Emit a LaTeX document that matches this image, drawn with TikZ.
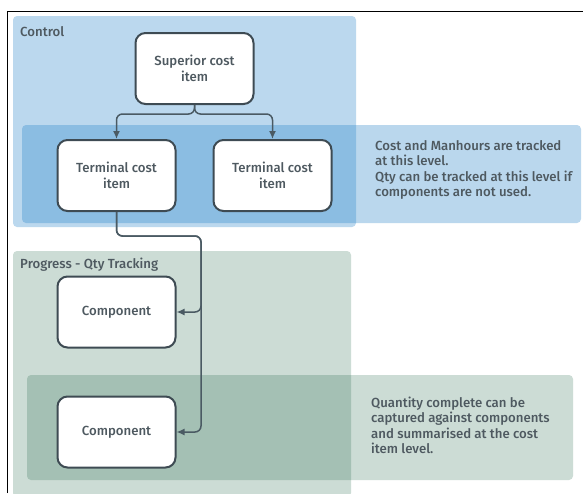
\documentclass[tikz,border=0pt]{standalone}
\usepackage{fontspec}
\setmainfont{Fira Sans}[UprightFont={* Medium}]
\usetikzlibrary{arrows.meta}

\definecolor{ink}{HTML}{4E5960}
\definecolor{boxline}{HTML}{3E4B53}
\definecolor{wire}{HTML}{4A5A63}
\definecolor{ctrlpanel}{HTML}{BBD8EE}
\definecolor{ctrlband}{RGB}{35,129,200}
\definecolor{progpanel}{HTML}{CCDCD5}
\definecolor{progband}{RGB}{23,96,64}

\tikzset{
  itembox/.style={draw=boxline, line width=2pt, fill=white, rounded corners=10pt,
    minimum width=118pt, minimum height=71pt, inner sep=0pt,
    align=center, font=\fontsize{13.2}{15.5}\selectfont, text=ink},
  panel/.style={rounded corners=4pt},
  paneltitle/.style={anchor=west, inner sep=0pt, font=\fontsize{13.2}{15}\selectfont, text=ink},
  note/.style={anchor=west, inner sep=0pt, align=left,
    font=\fontsize{13.2}{15.5}\selectfont, text=ink},
  wireline/.style={draw=wire, line width=1.5pt, rounded corners=6pt,
    -{Latex[length=8pt,width=7pt]}},
}

\begin{document}
\begin{tikzpicture}[x=1pt, y=-1pt]
  \useasboundingbox (0,0) rectangle (583,493);
  \fill[white] (0,0) rectangle (583,493);

  % frame edges
  \draw[black, line width=1pt] (7,493) -- (7,11) -- (583,11);

  % Control panel and its highlighted band
  \fill[ctrlpanel, panel] (13,16) rectangle (356,227);
  \fill[ctrlband, fill opacity=0.31, panel] (22,125) rectangle (581,223);
  \node[paneltitle] (ctrltitle) at (20,32) {Control};

  % Progress panel and its highlighted band
  \fill[progpanel, panel] (13,251) rectangle (351,497);
  \fill[progband, fill opacity=0.22, panel] (27,375) rectangle (573,480);
  \node[paneltitle] (progtitle) at (20,265) {Progress - Qty Tracking};

  % item boxes
  \node[itembox] (sup) at (194.5,68.5) {Superior cost\\item};
  \node[itembox] (tl)  at (116.5,175.5) {Terminal cost\\item};
  \node[itembox] (tr)  at (272.5,175.5) {Terminal cost\\item};
  \node[itembox] (c1)  at (116.5,312) {Component};
  \node[itembox] (c2)  at (116.5,432) {Component};

  % notes
  \node[note] (note1) at (375,170) {Cost and Manhours are tracked\\at this level.\\Qty can be tracked at this level if\\components are not used.};
  \node[note] (note2) at (371,425.5) {Quantity complete can be\\captured against components\\and summarised at the cost\\item level.};

  % connectors
  \coordinate (split) at (194.5,114);
  \coordinate (bus) at (201,236);
  \draw[wireline] (sup.south) |- (split) -| (tl.north);
  \draw[wireline] (sup.south) |- (split) -| (tr.north);
  \draw[wireline] (tl.south) |- (bus) |- (c1.east);
  \draw[wireline] (tl.south) |- (bus) |- (c2.east);
\end{tikzpicture}
\end{document}
